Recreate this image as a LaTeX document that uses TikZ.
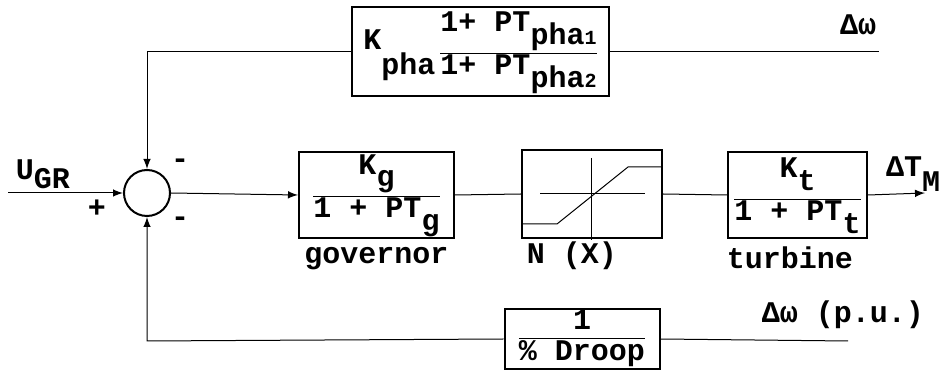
\documentclass[tikz,border=0pt]{standalone}
\usepackage{fontspec}
\setmainfont{Liberation Mono}
\usepackage{tikz}
\usetikzlibrary{positioning}
\usetikzlibrary{shapes,arrows,calc,arrows.meta}
% typewriter-style lowered index and stacked fraction
\newcommand{\lowr}[2][-5pt]{\raisebox{#1}{#2}}
\newcommand{\blkfrac}[3][8.5pt]{{\renewcommand{\arraystretch}{0.85}%
  \begin{tabular}{@{}c@{}}#2\rule[-#1]{0pt}{0pt}\\\hline#3\end{tabular}}}
\tikzset{
  -latex,auto,
  thick,
  every node/.style = {font=\fontsize{12}{14}\selectfont\bfseries, inner sep=0pt},
  block/.style = {rectangle, draw, thick, minimum width=#1},
  sum/.style = {circle, draw, thick, minimum size=18.4pt},
  lab/.style = {inner sep=1pt},
}

\begin{document}
\begin{tikzpicture}[x=0.4pt, y=-0.4pt]
  \useasboundingbox (0,0) rectangle (948,372);
  % blocks
  \node (sum)   [sum] at (147,193) {};
  \node (phase) [block=102.8pt, minimum height=35.6pt] at (480,52)
    {\raisebox{4pt}{K}\lowr[-6pt]{pha}\,\blkfrac{1+ PT\lowr{pha{\footnotesize 1}}}{1+ PT\lowr{pha{\footnotesize 2}}}};
  \node (gov)   [block=62pt, minimum height=34.4pt] at (376.5,195)
    {\blkfrac{K\lowr{g}}{1 + PT\lowr{g}}};
  \node (nx)    [block=56pt, minimum height=35.2pt] at (592,194) {};
  \node (turb)  [block=55.6pt, minimum height=34.4pt] at (797.5,195)
    {\blkfrac{K\lowr{t}}{1 + PT\lowr{t}}};
  \node (droop) [block=62pt, minimum height=24pt] at (582,339)
    {\blkfrac[3pt]{1}{\% Droop}};
  % captions
  \node (govl)  [lab, below=2pt of gov] {governor};
  \node (nxl)   [lab] at (572,256) {N (X)};
  \node (turbl) [lab, below=2pt of turb, xshift=-3pt] {turbine};
  % signal labels
  \node (dw)    [lab] at (858,25) {Δω};
  \node (dwpu)  [lab] at (843,315) {Δω (p.u.)};
  \node (ugr)   [lab] at (43,174) {U\lowr[-3.5pt]{GR}};
  \node (dtm)   [lab] at (913,174) {ΔT\lowr[-6pt]{M}};
  \node (plus)  [lab] at (97,209) {+};
  \node (mtop)  [lab] at (180,164) {-};
  \node (mbot)  [lab] at (180,222) {-};
  % free ends
  \coordinate (in)  at (8,193);
  \coordinate (out) at (925,193);
  \coordinate (tl)  at (147,52);
  \coordinate (tr)  at (879,52);
  \coordinate (bl)  at (147,341);
  \coordinate (br)  at (848,341);
  % connectors
  \draw (phase.west) -- (tl) -- (sum.north);
  \draw[-] (phase.east) -- (tr);
  \draw (in) -- (sum.west);
  \draw (sum.east) -- (gov.west);
  \draw[-] (gov.east) -- (nx.west);
  \draw[-] (nx.east) -- (turb.west);
  \draw (turb.east) -- (out);
  \draw (droop.west) -- (bl) -- (sum.south);
  \draw[-] (droop.east) -- (br);
  % saturation characteristic
  \draw[-] (540,194) -- (645,194);
  \draw[-] (591,158) -- (591,240);
  \draw[-] (522,224) -- (557,224) -- (628,167) -- (662,167);
\end{tikzpicture}
\end{document}
